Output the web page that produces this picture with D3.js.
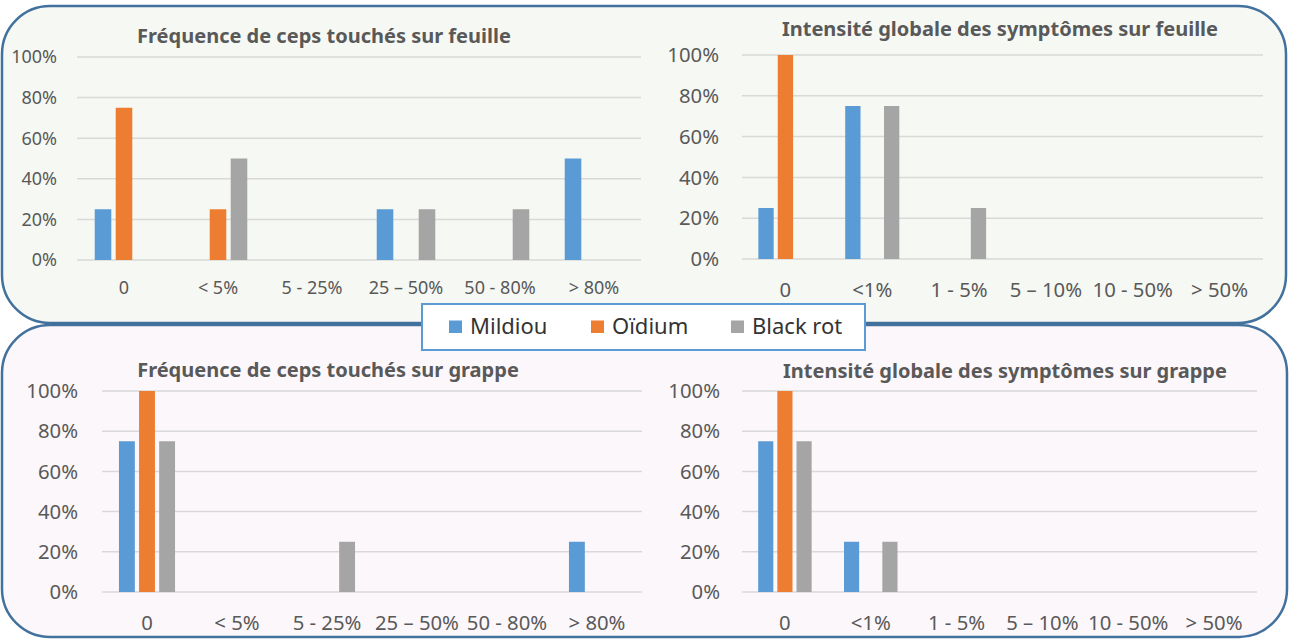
<!DOCTYPE html>
<html><head><meta charset="utf-8">
<script src="https://cdn.jsdelivr.net/npm/d3@7"></script>
<style>body{margin:0;background:#fff;} svg{display:block;font-family:'Noto Sans',sans-serif;}</style>
</head><body><svg id="c" width="1294" height="639"></svg>
<script>
const series = ["Mildiou", "Oïdium", "Black rot"];
const seriesColors = ["#5b9bd5", "#ed7d31", "#a5a5a5"];
const freqCategories = ["0", "< 5%", "5 - 25%", "25 – 50%", "50 - 80%", "> 80%"];
const intensCategories = ["0", "<1%", "1 - 5%", "5 – 10%", "10 - 50%", "> 50%"];
const yTickValues = [0, 0.2, 0.4, 0.6, 0.8, 1];

// Fréquence de ceps touchés sur feuille
const freqFeuilleMildiou = [0.25, 0, 0, 0.25, 0, 0.5];
const freqFeuilleOidium = [0.75, 0.25, 0, 0, 0, 0];
const freqFeuilleBlackRot = [0, 0.5, 0, 0.25, 0.25, 0];
// Intensité globale des symptômes sur feuille
const intFeuilleMildiou = [0.25, 0.75, 0, 0, 0, 0];
const intFeuilleOidium = [1, 0, 0, 0, 0, 0];
const intFeuilleBlackRot = [0, 0.75, 0.25, 0, 0, 0];
// Fréquence de ceps touchés sur grappe
const freqGrappeMildiou = [0.75, 0, 0, 0, 0, 0.25];
const freqGrappeOidium = [1, 0, 0, 0, 0, 0];
const freqGrappeBlackRot = [0.75, 0, 0.25, 0, 0, 0];
// Intensité globale des symptômes sur grappe
const intGrappeMildiou = [0.75, 0.25, 0, 0, 0, 0];
const intGrappeOidium = [1, 0, 0, 0, 0, 0];
const intGrappeBlackRot = [0.75, 0.25, 0, 0, 0, 0];

const svg = d3.select("#c");

// frames
svg.append("rect").attr("x", 2).attr("y", 325).attr("width", 1285).attr("height", 312)
  .attr("rx", 48).attr("fill", "#fcf7fb").attr("stroke", "#41719c").attr("stroke-width", 2.5);
svg.append("rect").attr("x", 2).attr("y", 6).attr("width", 1284).attr("height", 317)
  .attr("rx", 48).attr("fill", "#f6f8f3").attr("stroke", "#41719c").attr("stroke-width", 2.5);

const panels = [
  {title: "Fréquence de ceps touchés sur feuille", cats: freqCategories,
   vals: [freqFeuilleMildiou, freqFeuilleOidium, freqFeuilleBlackRot],
   x0: 77, x1: 641, y0: 260, y1: 57, tickRight: 57, tickSize: 18, catDy: 34, titleX: 324, titleY: 42.5},
  {title: "Intensité globale des symptômes sur feuille", cats: intensCategories,
   vals: [intFeuilleMildiou, intFeuilleOidium, intFeuilleBlackRot],
   x0: 742, x1: 1263, y0: 259, y1: 55, tickRight: 719, tickSize: 20.3, catDy: 38, titleX: 1000, titleY: 36},
  {title: "Fréquence de ceps touchés sur grappe", cats: freqCategories,
   vals: [freqGrappeMildiou, freqGrappeOidium, freqGrappeBlackRot],
   x0: 102, x1: 642, y0: 592, y1: 391, tickRight: 78, tickSize: 20.3, catDy: 38, titleX: 328, titleY: 376.5},
  {title: "Intensité globale des symptômes sur grappe", cats: intensCategories,
   vals: [intGrappeMildiou, intGrappeOidium, intGrappeBlackRot],
   x0: 742, x1: 1257, y0: 592, y1: 391, tickRight: 720, tickSize: 20.3, catDy: 38, titleX: 1005, titleY: 377.5}
];

const fmt = d3.format(".0%");

panels.forEach(p => {
  const g = svg.append("g");
  const x = d3.scaleBand().domain(p.cats).range([p.x0, p.x1]).paddingInner(0.33).paddingOuter(0.165);
  const xs = d3.scaleBand().domain(series).range([0, x.bandwidth()]).paddingInner(0.21).paddingOuter(0.105);
  const y = d3.scaleLinear().domain([0, 1]).range([p.y0, p.y1]);

  // gridlines
  g.selectAll("line.grid").data(yTickValues).join("line")
    .attr("x1", p.x0).attr("x2", p.x1)
    .attr("y1", d => y(d)).attr("y2", d => y(d))
    .attr("stroke", "#d9d9d9").attr("stroke-width", 1.5);

  // y tick labels
  g.selectAll("text.yt").data(yTickValues).join("text")
    .attr("x", p.tickRight).attr("y", d => y(d))
    .attr("dy", "0.35em").attr("text-anchor", "end")
    .attr("font-size", p.tickSize).attr("fill", "#595959")
    .text(d => fmt(d));

  // category labels
  g.selectAll("text.xc").data(p.cats).join("text")
    .attr("x", d => x(d) + x.bandwidth() / 2).attr("y", p.y0 + p.catDy)
    .attr("text-anchor", "middle")
    .attr("font-size", p.tickSize).attr("fill", "#595959")
    .text(d => d);

  // bars
  series.forEach((s, si) => {
    g.selectAll(null).data(p.cats.map((c, ci) => ({c, v: p.vals[si][ci]}))).join("rect")
      .attr("x", d => x(d.c) + xs(s)).attr("width", xs.bandwidth())
      .attr("y", d => y(d.v)).attr("height", d => y(0) - y(d.v))
      .attr("fill", seriesColors[si]);
  });

  // title
  g.append("text").attr("x", p.titleX).attr("y", p.titleY).attr("text-anchor", "middle")
    .attr("font-size", 20).attr("font-weight", "bold").attr("fill", "#595959")
    .text(p.title);
});

// legend
const lg = svg.append("g");
lg.append("rect").attr("x", 422).attr("y", 304).attr("width", 443).attr("height", 46)
  .attr("fill", "#fff").attr("stroke", "#5b9bd5").attr("stroke-width", 2);
const legendX = [449, 591, 731];
series.forEach((s, i) => {
  lg.append("rect").attr("x", legendX[i]).attr("y", 320.5).attr("width", 13).attr("height", 12.5)
    .attr("fill", seriesColors[i]);
  lg.append("text").attr("x", legendX[i] + 21).attr("y", 333.5)
    .attr("font-size", 22).attr("fill", "#333").text(s);
});
</script>
</body></html>
